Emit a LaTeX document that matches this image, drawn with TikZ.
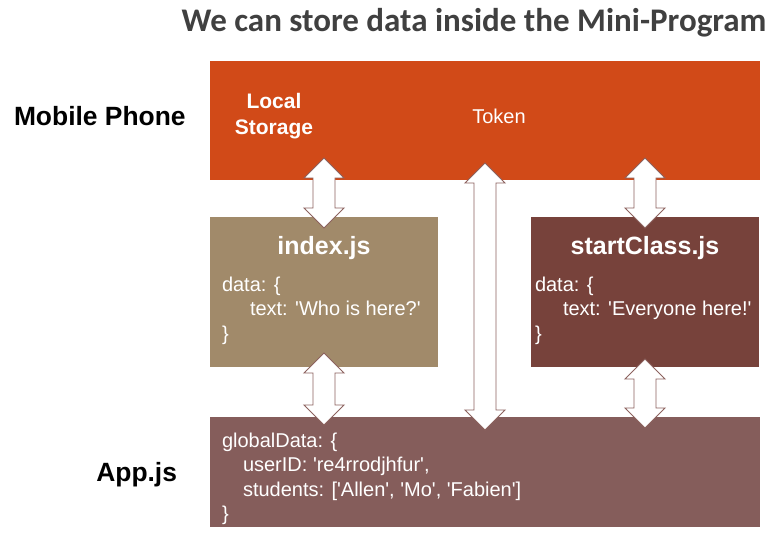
\documentclass[tikz,border=0pt]{standalone}
\usepackage{fontspec}
\setmainfont{Liberation Sans}
\newfontfamily\titlefont{Carlito}
\usetikzlibrary{calc}
\definecolor{phonefill}{HTML}{D14A18}
\definecolor{indexfill}{HTML}{A18A6A}
\definecolor{classfill}{HTML}{77423B}
\definecolor{appfill}{HTML}{855D5B}
\definecolor{titlegray}{HTML}{404040}
\definecolor{arrowline}{HTML}{8C625E}
\newcommand{\sq}{\textquotesingle}
% hollow double arrow from (#1) down to (#2)
\newcommand{\dblarrow}[2]{%
  \draw[blockarrow] (#1) -- ($(#1)+(20,20)$) -- ($(#1)+(11,20)$)
    -- ($(#2)+(11,-20)$) -- ($(#2)+(20,-20)$) -- (#2)
    -- ($(#2)+(-20,-20)$) -- ($(#2)+(-11,-20)$)
    -- ($(#1)+(-11,20)$) -- ($(#1)+(-20,20)$) -- cycle;}

\begin{document}
\begin{tikzpicture}[
  x=1pt,
  y=-1pt,
  every node/.style={inner sep=0pt, outer sep=0pt},
  panel/.style={anchor=north west},
  blockarrow/.style={draw=arrowline, fill=white, line width=0.9pt, line join=miter},
  sidelabel/.style={font=\fontsize{26.4}{30}\selectfont\bfseries, text=black},
  paneltitle/.style={font=\fontsize{25}{30}\selectfont\bfseries, text=white},
  codetext/.style={font=\fontsize{20}{24.5}\selectfont, text=white, align=left, anchor=north west}
]
  \useasboundingbox[fill=white] (0,0) rectangle (784,540);

  % title
  \node[font=\titlefont\fontsize{33}{36}\selectfont\bfseries, text=titlegray] (title) at (474,23)
    {We can store data inside the Mini-Program};

  % panels
  \node[panel, fill=phonefill, minimum width=550pt, minimum height=119pt] (phone) at (210,61) {};
  \node[panel, fill=indexfill, minimum width=228pt, minimum height=150pt] (index) at (210,217) {};
  \node[panel, fill=classfill, minimum width=228pt, minimum height=150pt] (startclass) at (531,217) {};
  \node[panel, fill=appfill, minimum width=550pt, minimum height=110pt] (app) at (210,417) {};

  % left labels
  \node[sidelabel, anchor=west] (mobile) at (14,116) {Mobile Phone};
  \node[sidelabel, anchor=east] (appjs) at (177,475) {App.js};

  % phone texts
  \node[font=\fontsize{21}{26}\selectfont\bfseries, text=white, align=center] (storage) at (274,116)
    {Local\\Storage};
  \node[font=\fontsize{20}{24}\selectfont, text=white] (token) at (499,116) {Token};

  % index.js
  \node[paneltitle] (indextitle) at (index.north |- 0,248) {index.js};
  \node[codetext] (indexcode) at (222,277)
    {data: \{\\\hspace*{28pt}text: \sq Who is here?\sq\\\}};

  % startClass.js
  \node[paneltitle] (classtitle) at (startclass.north |- 0,248) {startClass.js};
  \node[codetext] (classcode) at (535,277)
    {data: \{\\\hspace*{28pt}text: \sq Everyone here!\sq\\\}};

  % App.js
  \node[codetext] (appcode) at (222,433)
    {globalData: \{\\\hspace*{21pt}userID: \sq re4rrodjhfur\sq,\\\hspace*{21pt}students: [\sq Allen\sq, \sq Mo\sq, \sq Fabien\sq]\\\}};

  % arrow ends
  \coordinate (storeTop) at ($(index.north)+(0,-59)$);
  \coordinate (storeBot) at ($(index.north)+(0,11)$);
  \coordinate (classTop) at ($(startclass.north)+(0,-59)$);
  \coordinate (classBot) at ($(startclass.north)+(0,11)$);
  \coordinate (tokenTop) at ($(phone.south -| app.north)+(0,-17)$);
  \coordinate (tokenBot) at ($(app.north)+(0,13)$);
  \coordinate (indexLow) at ($(index.south)+(0,-14)$);
  \coordinate (appLeft) at ($(app.north -| index.south)+(0,8)$);
  \coordinate (classLow) at ($(startclass.south)+(0,-8)$);
  \coordinate (appRight) at ($(app.north -| startclass.south)+(0,11)$);

  \dblarrow{storeTop}{storeBot}
  \dblarrow{classTop}{classBot}
  \dblarrow{tokenTop}{tokenBot}
  \dblarrow{indexLow}{appLeft}
  \dblarrow{classLow}{appRight}
\end{tikzpicture}
\end{document}
